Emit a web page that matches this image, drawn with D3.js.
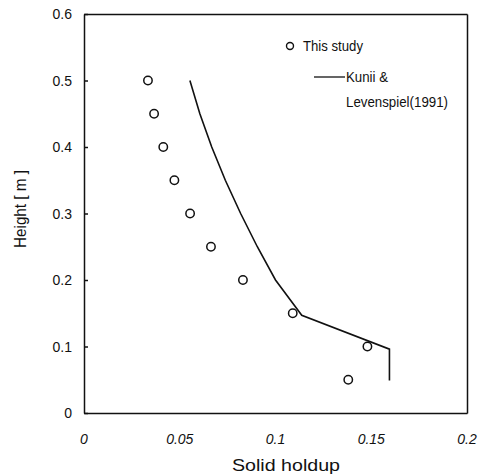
<!DOCTYPE html>
<html>
<head>
    <title>Solid holdup vs height</title>
    <script src="https://d3js.org/d3.v7.min.js"></script>
    <style>
        body { margin: 0; background: #fff; }
        svg text { font-family: "Liberation Sans", Arial, sans-serif; fill: #111; }
    </style>
</head>
<body>
    <svg id="chart" width="483" height="475"></svg>
    <script>
        // measured points (This study)
        const studyHoldup = [0.0334, 0.0366, 0.0414, 0.0472, 0.0554, 0.0663, 0.083, 0.109, 0.148, 0.138];
        const studyHeight = [0.5, 0.45, 0.4, 0.35, 0.3, 0.25, 0.2, 0.15, 0.1, 0.05];

        // Kunii & Levenspiel (1991) model curve
        const modelHoldup = [0.0553, 0.0605, 0.0667, 0.0738, 0.0818, 0.0905, 0.1, 0.1137, 0.1595, 0.1595];
        const modelHeight = [0.5, 0.45, 0.4, 0.35, 0.3, 0.25, 0.2, 0.147, 0.096, 0.049];

        const xTicks = [0, 0.05, 0.1, 0.15, 0.2];
        const yTicks = [0, 0.1, 0.2, 0.3, 0.4, 0.5, 0.6];

        const svg = d3.select('#chart');
        const plotLeft = 84, plotRight = 467, plotTop = 14, plotBottom = 413;

        const x = d3.scaleLinear().domain([0, 0.2]).range([plotLeft, plotRight]);
        const y = d3.scaleLinear().domain([0, 0.6]).range([plotBottom, plotTop]);

        // axes: left with inward ticks, bottom without ticks, plus top/right frame
        svg.append('g')
            .attr('transform', `translate(${plotLeft},0)`)
            .call(d3.axisRight(y).tickValues(yTicks).tickSize(4).tickSizeOuter(0).tickFormat(''));

        svg.append('g')
            .attr('transform', `translate(0,${plotBottom})`)
            .call(d3.axisBottom(x).tickValues([]).tickSizeOuter(0));

        svg.append('g')
            .attr('transform', `translate(0,${plotTop})`)
            .call(d3.axisTop(x).tickValues([]).tickSizeOuter(0));

        svg.append('g')
            .attr('transform', `translate(${plotRight},0)`)
            .call(d3.axisRight(y).tickValues([]).tickSizeOuter(0));

        svg.selectAll('.domain, .tick line')
            .attr('stroke', '#111')
            .attr('stroke-width', 1.5);

        // tick labels
        svg.append('g')
            .selectAll('text')
            .data(yTicks)
            .enter().append('text')
            .attr('x', 72)
            .attr('y', d => y(d) + 5)
            .attr('text-anchor', 'end')
            .attr('font-size', 14)
            .text(d => d3.format('')(d));

        svg.append('g')
            .selectAll('text')
            .data(xTicks)
            .enter().append('text')
            .attr('x', d => x(d))
            .attr('y', 444)
            .attr('text-anchor', 'middle')
            .attr('font-size', 14)
            .attr('font-style', 'italic')
            .text(d => d3.format('')(d));

        // axis titles
        svg.append('text')
            .attr('x', 232)
            .attr('y', 471)
            .attr('font-size', 17)
            .attr('textLength', 108).attr('lengthAdjust', 'spacingAndGlyphs')
            .text('Solid holdup');

        svg.append('text')
            .attr('transform', 'translate(26,209) rotate(-90)')
            .attr('text-anchor', 'middle')
            .attr('font-size', 16)
            .attr('textLength', 78).attr('lengthAdjust', 'spacingAndGlyphs')
            .text('Height [ m ]');

        // model line
        const modelData = modelHoldup.map((v, i) => [v, modelHeight[i]]);
        svg.append('path')
            .datum(modelData)
            .attr('fill', 'none')
            .attr('stroke', '#111')
            .attr('stroke-width', 1.6)
            .attr('d', d3.line().x(d => x(d[0])).y(d => y(d[1])));

        // study points
        svg.append('g')
            .selectAll('circle')
            .data(studyHoldup.map((v, i) => [v, studyHeight[i]]))
            .enter().append('circle')
            .attr('cx', d => x(d[0]))
            .attr('cy', d => y(d[1]))
            .attr('r', 4.2)
            .attr('fill', '#fff')
            .attr('stroke', '#111')
            .attr('stroke-width', 1.5);

        // legend
        const legend = svg.append('g');
        legend.append('circle')
            .attr('cx', 290).attr('cy', 46).attr('r', 3.5)
            .attr('fill', '#fff').attr('stroke', '#111').attr('stroke-width', 1.4);
        legend.append('text')
            .attr('x', 303).attr('y', 51).attr('font-size', 15)
            .attr('textLength', 60).attr('lengthAdjust', 'spacingAndGlyphs')
            .text('This study');
        legend.append('line')
            .attr('x1', 314).attr('x2', 345).attr('y1', 77).attr('y2', 77)
            .attr('stroke', '#111').attr('stroke-width', 1.3);
        legend.append('text')
            .attr('x', 346).attr('y', 82).attr('font-size', 15)
            .attr('textLength', 42).attr('lengthAdjust', 'spacingAndGlyphs')
            .text('Kunii &');
        legend.append('text')
            .attr('x', 346).attr('y', 107).attr('font-size', 15)
            .attr('textLength', 102).attr('lengthAdjust', 'spacingAndGlyphs')
            .text('Levenspiel(1991)');
    </script>
</body>
</html>
